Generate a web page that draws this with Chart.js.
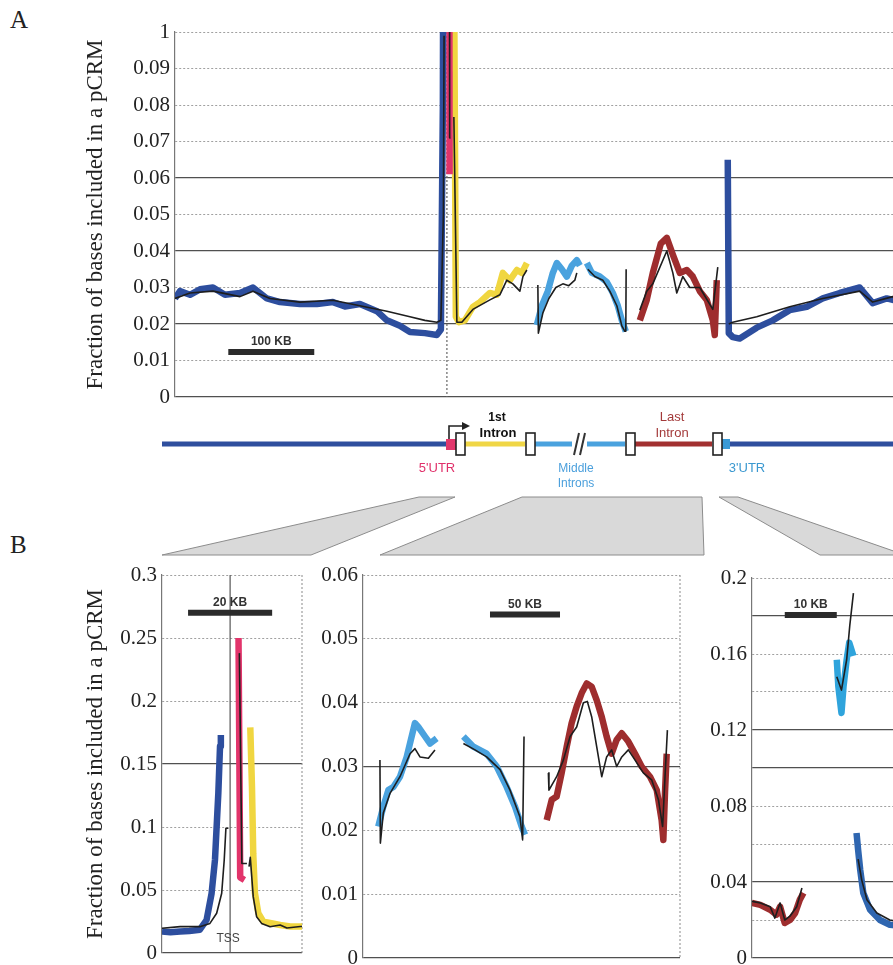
<!DOCTYPE html>
<html>
<head>
<meta charset="utf-8">
<script src="https://cdn.jsdelivr.net/npm/chart.js@4.4.1/dist/chart.umd.min.js"></script>
<style>
html, body { margin: 0; padding: 0; width: 893px; height: 965px; overflow: hidden; background: #fff; }
canvas { position: absolute; }
.panel { position: absolute; font-family: "Liberation Serif", serif; font-size: 25px; color: #222; }
svg { position: absolute; left: 0; top: 400px; }
</style>
</head>
<body>
<div class="panel" style="left:10px;top:6px">A</div>
<div class="panel" style="left:10px;top:531px">B</div>
<canvas id="chartA" width="830" height="420" style="left:80px;top:0"></canvas>

<svg width="893" height="160" font-family="Liberation Sans, Arial, sans-serif">
  <!-- zoom wedges toward panel B -->
  <polygon points="419,97 455,97 311,155 162,155" fill="#d9d9d9" stroke="#8c8c8c" stroke-width="1"/>
  <polygon points="522,97 702,97 704,155 380,155" fill="#d9d9d9" stroke="#8c8c8c" stroke-width="1"/>
  <polygon points="719,97 738,97 905,155 820,155" fill="#d9d9d9" stroke="#8c8c8c" stroke-width="1"/>
  <!-- gene model -->
  <line x1="162" y1="44" x2="447" y2="44" stroke="#2f4f9e" stroke-width="5"/>
  <rect x="446" y="39" width="10" height="11" fill="#e2376c"/>
  <line x1="465" y1="44" x2="525" y2="44" stroke="#f0d646" stroke-width="5"/>
  <line x1="535" y1="44" x2="572" y2="44" stroke="#4aa2de" stroke-width="5"/>
  <line x1="587" y1="44" x2="625" y2="44" stroke="#4aa2de" stroke-width="5"/>
  <line x1="635" y1="44" x2="712" y2="44" stroke="#a23030" stroke-width="5"/>
  <rect x="722" y="39" width="8" height="10" fill="#3a9ad6"/>
  <line x1="730" y1="44" x2="893" y2="44" stroke="#2f4f9e" stroke-width="5"/>
  <line x1="574" y1="55" x2="579" y2="33" stroke="#333" stroke-width="2"/>
  <line x1="580" y1="55" x2="585" y2="33" stroke="#333" stroke-width="2"/>
  <rect x="456" y="33" width="9" height="22" fill="#fff" stroke="#222" stroke-width="1.6"/>
  <rect x="526" y="33" width="9" height="22" fill="#fff" stroke="#222" stroke-width="1.6"/>
  <rect x="626" y="33" width="9" height="22" fill="#fff" stroke="#222" stroke-width="1.6"/>
  <rect x="713" y="33" width="9" height="22" fill="#fff" stroke="#222" stroke-width="1.6"/>
  <path d="M449 39 V26 H463" fill="none" stroke="#222" stroke-width="1.6"/>
  <polygon points="462,22 470,26 462,30" fill="#222"/>
  <text x="497" y="21" text-anchor="middle" font-size="12" font-weight="bold" fill="#111">1st</text>
  <text x="498" y="37" text-anchor="middle" font-size="13" font-weight="bold" fill="#111">Intron</text>
  <text x="437" y="72" text-anchor="middle" font-size="13" fill="#e0306a">5'UTR</text>
  <text x="576" y="72" text-anchor="middle" font-size="12" fill="#4a9fdc">Middle</text>
  <text x="576" y="87" text-anchor="middle" font-size="12" fill="#4a9fdc">Introns</text>
  <text x="672" y="21" text-anchor="middle" font-size="13" fill="#a33a3a">Last</text>
  <text x="672" y="37" text-anchor="middle" font-size="13" fill="#a33a3a">Intron</text>
  <text x="747" y="72" text-anchor="middle" font-size="13" fill="#3a98d0">3'UTR</text>
</svg>

<canvas id="chartB1" width="230" height="425" style="left:80px;top:540px"></canvas>
<canvas id="chartB2" width="380" height="428" style="left:310px;top:540px"></canvas>
<canvas id="chartB3" width="230" height="428" style="left:690px;top:540px"></canvas>

<script>
// ---- panel A: whole locus, x in kb ----
const aUpBlueX = [0, 5.8, 17.4, 29.1, 44.2, 58.1, 75.6, 90.7, 98.8, 106.9, 122.1, 145.3, 165.1, 183.7, 197.7, 215.1, 234.9, 246.5, 261.6, 273.3, 290.7, 304.7, 309.3, 311.6, 312.5];
const aUpBlueY = [0.027, 0.029, 0.028, 0.0295, 0.030, 0.028, 0.0285, 0.030, 0.0285, 0.027, 0.026, 0.0255, 0.0255, 0.026, 0.0248, 0.0255, 0.0235, 0.021, 0.0195, 0.0178, 0.0175, 0.017, 0.0185, 0.08, 0.175];
const aUpBlackX = [0, 17.4, 44.2, 75.6, 90.7, 110.5, 145.3, 183.7, 215.1, 246.5, 273.3, 290.7, 304.7, 309.3, 312.2, 313.0];
const aUpBlackY = [0.027, 0.0285, 0.029, 0.0275, 0.029, 0.027, 0.026, 0.0265, 0.025, 0.0235, 0.022, 0.021, 0.0205, 0.021, 0.05, 0.099];
const aUtrX = [318.6, 319.4];
const aUtrY = [0.25, 0.061];
const aUtrBlackX = [318.8, 319.5, 320.5];
const aUtrBlackY = [0.238, 0.071, 0.071];
const aFirstX = [323.3, 326.7, 330.2, 337.2, 346.5, 354.7, 366.3, 374.4, 381.4, 389.5, 397.7, 403.5, 409.3];
const aFirstY = [0.18, 0.022, 0.0205, 0.021, 0.0247, 0.026, 0.0285, 0.028, 0.034, 0.032, 0.0348, 0.034, 0.0367];
const aFirstBlackX = [324.4, 327.9, 333.7, 346.5, 366.3, 377.9, 386.0, 393.0, 401.2, 404.7, 409.3];
const aFirstBlackY = [0.0767, 0.0205, 0.0205, 0.024, 0.0266, 0.028, 0.032, 0.031, 0.029, 0.033, 0.0348];
const aMid1X = [420.9, 426.7, 433.7, 439.5, 444.2, 450.0, 455.8, 461.6, 467.4, 470.9];
const aMid1Y = [0.0197, 0.025, 0.029, 0.034, 0.0367, 0.035, 0.033, 0.036, 0.0375, 0.036];
const aMid1BlackX = [422.1, 422.7, 427.9, 434.9, 443.0, 451.2, 458.1, 465.1, 467.4];
const aMid1BlackY = [0.0307, 0.0175, 0.023, 0.027, 0.030, 0.031, 0.0305, 0.032, 0.034];
const aMid2X = [479.1, 484.9, 494.2, 502.3, 509.3, 515.1, 519.8, 524.4];
const aMid2Y = [0.0367, 0.034, 0.033, 0.0315, 0.0285, 0.025, 0.021, 0.018];
const aMid2BlackX = [480.2, 488.4, 497.7, 505.8, 514.0, 519.8, 523.3, 524.4, 524.8];
const aMid2BlackY = [0.035, 0.033, 0.032, 0.029, 0.025, 0.0195, 0.018, 0.018, 0.035];
const aLastX = [540.7, 548.8, 555.8, 565.1, 572.1, 579.1, 587.2, 595.3, 602.3, 610.5, 618.6, 625.6, 627.9, 630.2];
const aLastY = [0.021, 0.0266, 0.034, 0.042, 0.0436, 0.039, 0.034, 0.0348, 0.033, 0.029, 0.0266, 0.021, 0.017, 0.032];
const aLastBlackX = [540.7, 548.8, 555.8, 572.1, 579.1, 583.7, 590.7, 598.8, 610.5, 625.6, 631.4];
const aLastBlackY = [0.0238, 0.029, 0.031, 0.040, 0.034, 0.0285, 0.033, 0.030, 0.030, 0.024, 0.0356];
const aDownX = [643.0, 644.2, 648.8, 657.0, 676.7, 695.3, 715.1, 734.9, 753.5, 773.3, 796.5, 811.6, 827.9, 837.2, 854.7];
const aDownY = [0.065, 0.0175, 0.0164, 0.016, 0.019, 0.021, 0.0238, 0.0247, 0.027, 0.0285, 0.030, 0.0257, 0.027, 0.0265, 0.027];
const aDownBlackX = [644.2, 648.8, 676.7, 715.1, 753.5, 796.5, 811.6, 834.9, 854.7];
const aDownBlackY = [0.020, 0.0205, 0.022, 0.0247, 0.027, 0.029, 0.026, 0.0275, 0.027];
const aTss = 316.3;

// ---- panel B1: around the TSS ----
const b1BlueX = [0, 2.0, 4.3, 6.5, 9.0, 10.6, 11.8, 12.6, 13.4, 13.8, 14.0];
const b1BlueY = [0.017, 0.0165, 0.017, 0.0175, 0.0185, 0.0262, 0.0474, 0.0738, 0.127, 0.164, 0.173];
const b1BlackLX = [0, 4.3, 9.0, 11.4, 13.0, 14.2, 14.8, 15.2, 15.8];
const b1BlackLY = [0.0196, 0.0209, 0.0209, 0.0235, 0.0315, 0.0474, 0.0738, 0.099, 0.099];
const b1UtrX = [18.2, 18.6, 19.6];
const b1UtrY = [0.25, 0.06, 0.058];
const b1UtrBlackX = [18.4, 19.0, 20.2];
const b1UtrBlackY = [0.238, 0.071, 0.071];
const b1YellowX = [21.0, 21.4, 21.7, 22.1, 22.9, 24.1, 25.7, 28.1, 30.5, 33.3];
const b1YellowY = [0.179, 0.132, 0.079, 0.0476, 0.0317, 0.0249, 0.0238, 0.0222, 0.021, 0.021];
const b1BlackRX = [20.7, 21.0, 21.7, 22.5, 23.7, 25.7, 28.1, 29.7, 32.9, 33.3];
const b1BlackRY = [0.0685, 0.076, 0.0447, 0.0288, 0.0235, 0.0209, 0.0222, 0.0198, 0.021, 0.021];
const b1Tss = 16.2;

// ---- panel B2: middle and last introns ----
const b2Mid1X = [10.9, 14.5, 18.1, 21.7, 26.4, 31.2, 37.1, 39.5, 44.3, 47.9, 52.6];
const b2Mid1Y = [0.0206, 0.0237, 0.0263, 0.0268, 0.0284, 0.0315, 0.0368, 0.0362, 0.0347, 0.0336, 0.0344];
const b2Mid1BlackX = [12.1, 12.4, 14.5, 19.3, 26.4, 33.6, 37.1, 40.7, 46.7, 51.4];
const b2Mid1BlackY = [0.031, 0.018, 0.0227, 0.0258, 0.0284, 0.032, 0.0328, 0.0315, 0.0313, 0.0326];
const b2Mid2X = [71.7, 78.8, 88.3, 95.5, 102.6, 108.6, 113.3, 115.7];
const b2Mid2Y = [0.0347, 0.0331, 0.032, 0.030, 0.0268, 0.0237, 0.0206, 0.0193];
const b2Mid2BlackX = [71.7, 80.0, 88.3, 97.9, 105.0, 112.1, 114.0, 115.0];
const b2Mid2BlackY = [0.0336, 0.0326, 0.0315, 0.0295, 0.0263, 0.0221, 0.0185, 0.0347];
const b2LastX = [131.2, 134.8, 138.3, 141.9, 145.5, 149.0, 152.6, 156.2, 159.8, 163.3, 166.9, 170.5, 174.0, 177.6, 181.2, 184.8, 189.5, 194.3, 199.0, 205.0, 209.8, 213.3, 214.5, 215.7, 216.9];
const b2LastY = [0.0216, 0.0248, 0.0253, 0.029, 0.0331, 0.0368, 0.0394, 0.0415, 0.043, 0.0425, 0.0404, 0.0378, 0.0347, 0.032, 0.0342, 0.0352, 0.0339, 0.032, 0.030, 0.0284, 0.0263, 0.0216, 0.0185, 0.026, 0.032];
const b2LastBlackX = [132.4, 132.8, 138.3, 143.1, 147.9, 152.6, 157.4, 160.2, 163.3, 166.9, 170.5, 174.0, 177.6, 181.2, 184.8, 189.5, 194.3, 200.2, 206.2, 211.0, 214.0, 215.7, 217.4];
const b2LastBlackY = [0.029, 0.0263, 0.0284, 0.031, 0.0347, 0.0362, 0.040, 0.0402, 0.0378, 0.0331, 0.0284, 0.0315, 0.0326, 0.030, 0.0315, 0.0326, 0.031, 0.029, 0.0279, 0.0248, 0.0206, 0.0284, 0.0357];

// ---- panel B3: end of gene ----
const b3LastX = [0, 1.6, 3.5, 4.7, 5.4, 6.3, 7.3, 8.3, 9.2, 9.9];
const b3LastY = [0.029, 0.028, 0.0254, 0.0228, 0.027, 0.0184, 0.020, 0.0237, 0.0307, 0.0342];
const b3LastBlackX = [0, 1.6, 3.5, 4.4, 5.4, 6.3, 7.3, 8.6, 9.6];
const b3LastBlackY = [0.0298, 0.029, 0.027, 0.021, 0.029, 0.020, 0.022, 0.027, 0.0368];
const b3UtrX = [16.3, 16.6, 17.2, 17.6, 18.2, 18.7, 19.5];
const b3UtrY = [0.157, 0.143, 0.129, 0.143, 0.157, 0.166, 0.159];
const b3UtrBlackX = [16.3, 17.2, 18.2, 18.8, 19.5];
const b3UtrBlackY = [0.148, 0.141, 0.157, 0.175, 0.192];
const b3DownX = [20.1, 20.4, 20.8, 21.4, 22.7, 24.6, 26.5, 28.5];
const b3DownY = [0.0658, 0.057, 0.0465, 0.0342, 0.0254, 0.020, 0.0175, 0.017];
const b3DownBlackX = [20.4, 21.1, 22.1, 24.0, 26.5, 28.5];
const b3DownBlackY = [0.052, 0.041, 0.0307, 0.0237, 0.020, 0.019];

const SERIF = '"Liberation Serif", "Times New Roman", serif';
const SANS = '"Liberation Sans", Arial, sans-serif';
const DARKBLUE = '#2d4e9e', BLACK = '#1e1e1e', YELLOW = '#f0d640', PINK = '#e2346b',
      LIGHTBLUE = '#4aa2de', DARKRED = '#9e2d2e', MIDBLUE = '#2f66b0', CYAN = '#2fa4dc';

function line(xs, ys, color, width, order) {
  return {
    data: xs.map((x, i) => ({ x: x, y: ys[i] })),
    borderColor: color,
    borderWidth: width,
    pointRadius: 0,
    tension: 0,
    fill: false,
    order: order,
    borderJoinStyle: 'round'
  };
}
const thick = (xs, ys, c) => line(xs, ys, c, 6.5, 1);
const thin = (xs, ys) => line(xs, ys, BLACK, 1.6, 0);

function fmt(v) {
  return String(Number(v.toFixed(3)));
}

// scale bars, reference lines and right frame
const marks = {
  id: 'marks',
  beforeDatasetsDraw(chart, args, opts) {
    const { ctx, chartArea, scales } = chart;
    if (opts.vline) {
      const x = scales.x.getPixelForValue(opts.vline.x);
      ctx.save();
      ctx.strokeStyle = opts.vline.color;
      ctx.lineWidth = 1.2;
      ctx.setLineDash(opts.vline.dash || []);
      ctx.beginPath();
      ctx.moveTo(x, chartArea.top);
      ctx.lineTo(x, chartArea.bottom);
      ctx.stroke();
      ctx.restore();
      if (opts.vline.label) {
        ctx.save();
        ctx.font = '12px ' + SANS;
        ctx.fillStyle = '#444';
        ctx.textAlign = 'center';
        ctx.textBaseline = 'middle';
        ctx.fillText(opts.vline.label, x - 2, chartArea.bottom - 14);
        ctx.restore();
      }
    }
    if (opts.frameRight) {
      ctx.save();
      ctx.strokeStyle = '#8a8a8a';
      ctx.lineWidth = 1;
      ctx.setLineDash([2, 2]);
      ctx.beginPath();
      ctx.moveTo(chartArea.right, chartArea.top);
      ctx.lineTo(chartArea.right, chartArea.bottom);
      ctx.stroke();
      ctx.restore();
    }
  },
  afterDatasetsDraw(chart, args, opts) {
    if (!opts.bar) return;
    const { ctx, scales } = chart;
    const x1 = scales.x.getPixelForValue(opts.bar.from);
    const x2 = scales.x.getPixelForValue(opts.bar.to);
    const y = scales.y.getPixelForValue(opts.bar.at);
    ctx.save();
    ctx.strokeStyle = '#2b2b2b';
    ctx.lineWidth = 6;
    ctx.beginPath();
    ctx.moveTo(x1, y);
    ctx.lineTo(x2, y);
    ctx.stroke();
    ctx.font = 'bold 12px ' + SANS;
    ctx.fillStyle = '#333';
    ctx.textAlign = 'center';
    ctx.textBaseline = 'bottom';
    ctx.fillText(opts.bar.label, (x1 + x2) / 2, y - 4);
    ctx.restore();
  }
};

function makeChart(id, o) {
  const solid = v => o.solid.some(s => Math.abs(s - v) < 1e-6);
  const isSolid = c => c.tick ? solid(c.tick.value) : true;
  return new Chart(document.getElementById(id), {
    type: 'line',
    data: { datasets: o.datasets },
    plugins: [marks],
    options: {
      responsive: false,
      animation: false,
      events: [],
      layout: { padding: o.padding },
      scales: {
        x: { type: 'linear', display: false, min: o.xmin, max: o.xmax },
        y: {
          min: o.ymin, max: o.ymax,
          afterFit: s => { s.width = o.axisWidth; s.paddingTop = 0; s.paddingBottom = 0; },
          ticks: { stepSize: o.step, padding: 5, color: '#222', font: { family: SERIF, size: 21 }, callback: o.label },
          grid: {
            drawTicks: false,
            color: c => isSolid(c) ? '#505050' : '#a0a0a0',
            lineWidth: c => isSolid(c) ? 1.3 : 1
          },
          border: { color: '#777', width: 1.2, dash: c => isSolid(c) ? [] : [2, 2] },
          title: o.title ? {
            display: true,
            text: o.title,
            color: '#222',
            font: { family: SERIF, size: 23 },
            padding: { top: 2, bottom: 0 }
          } : { display: false }
        }
      },
      plugins: { legend: { display: false }, tooltip: { enabled: false }, marks: o.marks }
    }
  });
}

const Y_TITLE = 'Fraction of bases included in a pCRM';

makeChart('chartA', {
  padding: { top: 32, bottom: 23, left: 0, right: 0 },
  axisWidth: 95, xmin: 0, xmax: 855, ymin: 0, ymax: 0.1, step: 0.01,
  solid: [0, 0.02, 0.04, 0.06],
  label: v => v > 0.0999 ? '1' : fmt(v),
  title: Y_TITLE,
  marks: { bar: { from: 62, to: 162, at: 0.0123, label: '100 KB' }, vline: { x: aTss, color: '#666', dash: [2, 2] } },
  datasets: [
    thin(aUpBlackX, aUpBlackY), thin(aUtrBlackX, aUtrBlackY), thin(aFirstBlackX, aFirstBlackY),
    thin(aMid1BlackX, aMid1BlackY), thin(aMid2BlackX, aMid2BlackY), thin(aLastBlackX, aLastBlackY),
    thin(aDownBlackX, aDownBlackY),
    thick(aUpBlueX, aUpBlueY, DARKBLUE), thick(aUtrX, aUtrY, PINK), thick(aFirstX, aFirstY, YELLOW),
    thick(aMid1X, aMid1Y, LIGHTBLUE), thick(aMid2X, aMid2Y, LIGHTBLUE), thick(aLastX, aLastY, DARKRED),
    thick(aDownX, aDownY, DARKBLUE)
  ]
});

makeChart('chartB1', {
  padding: { top: 35, bottom: 12, left: 0, right: 8 },
  axisWidth: 82, xmin: 0, xmax: 33.3, ymin: 0, ymax: 0.3, step: 0.05,
  solid: [0, 0.15],
  label: v => fmt(v),
  title: Y_TITLE,
  marks: { bar: { from: 6.2, to: 26.2, at: 0.27, label: '20 KB' }, vline: { x: b1Tss, color: '#555', label: 'TSS' }, frameRight: true },
  datasets: [
    thin(b1BlackLX, b1BlackLY), thin(b1UtrBlackX, b1UtrBlackY), thin(b1BlackRX, b1BlackRY),
    thick(b1BlueX, b1BlueY, DARKBLUE), thick(b1UtrX, b1UtrY, PINK), thick(b1YellowX, b1YellowY, YELLOW)
  ]
});

makeChart('chartB2', {
  padding: { top: 35, bottom: 10, left: 0, right: 10 },
  axisWidth: 53, xmin: 0, xmax: 226.4, ymin: 0, ymax: 0.06, step: 0.01,
  solid: [0, 0.03],
  label: v => fmt(v),
  marks: { bar: { from: 90.7, to: 140.7, at: 0.0538, label: '50 KB' }, frameRight: true },
  datasets: [
    thin(b2Mid1BlackX, b2Mid1BlackY), thin(b2Mid2BlackX, b2Mid2BlackY), thin(b2LastBlackX, b2LastBlackY),
    thick(b2Mid1X, b2Mid1Y, LIGHTBLUE), thick(b2Mid2X, b2Mid2Y, LIGHTBLUE), thick(b2LastX, b2LastY, DARKRED)
  ]
});

makeChart('chartB3', {
  padding: { top: 38, bottom: 10, left: 0, right: 0 },
  axisWidth: 62, xmin: 0, xmax: 32.3, ymin: 0, ymax: 0.2, step: 0.02,
  solid: [0, 0.04, 0.1, 0.12, 0.18],
  label: v => Math.round(v * 50) % 2 === 0 ? fmt(v) : '',
  marks: { bar: { from: 6.3, to: 16.3, at: 0.1805, label: '10 KB' } },
  datasets: [
    thin(b3LastBlackX, b3LastBlackY), thin(b3UtrBlackX, b3UtrBlackY), thin(b3DownBlackX, b3DownBlackY),
    thick(b3LastX, b3LastY, DARKRED), thick(b3UtrX, b3UtrY, CYAN), thick(b3DownX, b3DownY, MIDBLUE)
  ]
});
</script>
</body>
</html>
